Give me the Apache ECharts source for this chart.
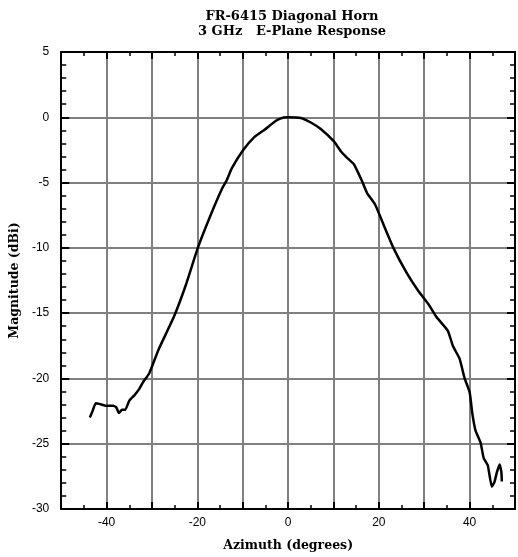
<!DOCTYPE html>
<html>
<head>
<meta charset="utf-8">
<script src="https://cdn.jsdelivr.net/npm/echarts@6/dist/echarts.min.js"></script>
<style>html,body{margin:0;padding:0;background:#fff}#c{width:518px;height:557px}</style>
</head>
<body>
<div id="c"></div>
<script>
var azimuth = [-43.7,-43.1,-42.4,-41.6,-40.1,-38.6,-37.9,-37.3,-36.6,-35.9,-35.0,-33.9,-32.8,-32.0,-30.6,-28.5,-25.2,-22.6,-19.9,-17.2,-14.6,-13.5,-12.4,-9.9,-7.4,-5.2,-2.6,-1.0,0,2.8,5.0,7.2,10.1,11.6,13.0,14.5,16.3,17.4,19.2,20.7,23.2,26.1,28.7,30.9,32.7,35.2,36.3,37.8,38.9,40.0,40.6,41.3,42.4,43.1,44.0,44.9,45.5,46.0,46.6,47.0,47.1];
var magnitude = [-23.0,-22.5,-21.9,-21.95,-22.1,-22.1,-22.2,-22.65,-22.4,-22.4,-21.7,-21.3,-20.8,-20.3,-19.6,-17.75,-15.3,-12.9,-10.0,-7.6,-5.5,-4.8,-3.9,-2.5,-1.5,-0.95,-0.25,-0.02,0,-0.05,-0.4,-0.9,-1.85,-2.6,-3.1,-3.6,-4.9,-5.8,-6.7,-7.95,-10.0,-11.9,-13.3,-14.3,-15.3,-16.35,-17.5,-18.5,-20.0,-21.05,-22.7,-24.0,-24.9,-26.1,-26.65,-28.3,-27.9,-27.2,-26.6,-27.2,-27.9];
var xLabels = [-40,-20,0,20,40];
var titleLines = ['FR-6415 Diagonal Horn', '3 GHz   E-Plane Response'];

var points = azimuth.map(function(a, i){ return [a, magnitude[i]]; });
var serif = 'DejaVu Serif';
var sans = 'Liberation Sans';
var axisLineStyle = {color:'#000', width:2};
var gridStyle = {color:'#808080', width:2};

var chart = echarts.init(document.getElementById('c'));
chart.setOption({
  animation:false,
  title:{
    text: titleLines.join('\n'),
    left: 287, top: 4, textAlign:'center',
    textStyle:{fontFamily:serif, fontWeight:'bold', fontSize:13, color:'#000', lineHeight:15}
  },
  grid:{left:58, right:2, top:52, bottom:47},
  xAxis:[{
    type:'value', min:-50, max:50, interval:10,
    axisLine:{show:true, onZero:false, lineStyle:axisLineStyle},
    axisTick:{show:true, inside:true, length:7, lineStyle:{color:'#000', width:2}},
    minorTick:{show:true, splitNumber:2, length:4, lineStyle:{color:'#000', width:1.5}},
    splitLine:{show:true, lineStyle:gridStyle},
    axisLabel:{margin:8, fontFamily:sans, fontSize:12, color:'#000',
      formatter:function(v){ return xLabels.indexOf(v) >= 0 ? String(v) : ''; }},
    name:'Azimuth (degrees)', nameLocation:'middle', nameGap:30,
    nameTextStyle:{fontFamily:serif, fontWeight:'bold', fontSize:12.5, color:'#000'}
  },{
    type:'value', position:'top', min:-50, max:50, interval:10,
    axisLine:{show:true, onZero:false, lineStyle:axisLineStyle},
    axisTick:{show:true, inside:true, length:7, lineStyle:{color:'#000', width:2}},
    minorTick:{show:true, splitNumber:2, length:4, lineStyle:{color:'#000', width:1.5}},
    splitLine:{show:false}, axisLabel:{show:false}
  }],
  yAxis:[{
    type:'value', min:-30, max:5, interval:5,
    axisLine:{show:true, onZero:false, lineStyle:axisLineStyle},
    axisTick:{show:true, inside:true, length:8, lineStyle:{color:'#000', width:2}},
    minorTick:{show:true, splitNumber:5, length:5, lineStyle:{color:'#000', width:1.5}},
    splitLine:{show:true, lineStyle:gridStyle},
    axisLabel:{margin:12, fontFamily:sans, fontSize:12, color:'#000'},
    name:'Magnitude (dBi)', nameLocation:'middle', nameGap:40, nameRotate:90,
    nameTextStyle:{fontFamily:serif, fontWeight:'bold', fontSize:12.5, color:'#000'}
  },{
    type:'value', position:'right', min:-30, max:5, interval:5,
    axisLine:{show:true, onZero:false, lineStyle:axisLineStyle},
    axisTick:{show:true, inside:true, length:8, lineStyle:{color:'#000', width:2}},
    minorTick:{show:true, splitNumber:5, length:5, lineStyle:{color:'#000', width:1.5}},
    splitLine:{show:false}, axisLabel:{show:false}
  }],
  series:[{
    type:'line', data:points, xAxisIndex:0, yAxisIndex:0,
    showSymbol:false, smooth:0.15,
    lineStyle:{color:'#000', width:2.5}
  }]
});
</script>
</body>
</html>
